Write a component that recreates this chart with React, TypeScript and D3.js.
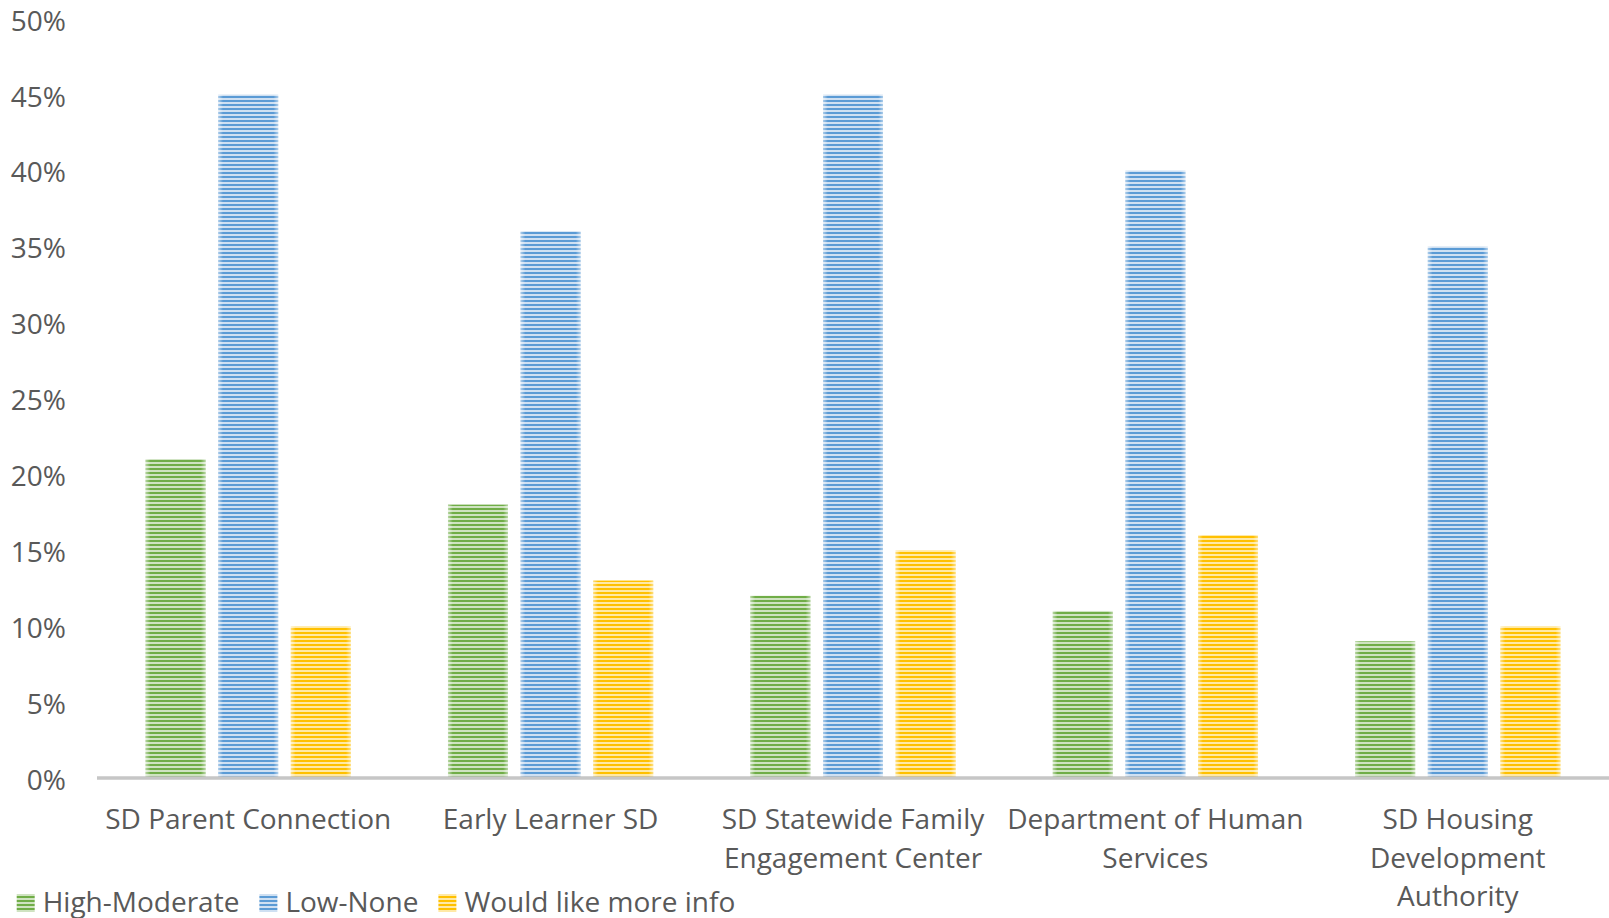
import React, { useEffect, useRef } from 'react';
import * as d3 from 'd3';

const categories = [
  'SD Parent Connection',
  'Early Learner SD',
  'SD Statewide Family Engagement Center',
  'Department of Human Services',
  'SD Housing Development Authority',
];
const seriesNames = ['High-Moderate', 'Low-None', 'Would like more info'];
const highModerate = [21, 18, 12, 11, 9];
const lowNone = [45, 36, 45, 40, 35];
const moreInfo = [10, 13, 15, 16, 10];
const seriesColors = ['#70AD47', '#5B9BD5', '#FFC000'];
const seriesLight = ['#cfe3c1', '#cfe0f2', '#ffe9a6'];
const yTicks = [0, 5, 10, 15, 20, 25, 30, 35, 40, 45, 50];

const W = 1609;
const H = 918;
const FONT = "'Open Sans', 'Noto Sans', sans-serif";
const TEXT = '#595959';
const FS = 28;

export default function App() {
  const ref = useRef<SVGSVGElement | null>(null);

  useEffect(() => {
    const svg = d3.select(ref.current);
    svg.selectAll('*').remove();

    const series = [highModerate, lowNone, moreInfo];
    const x0 = d3.scaleBand<string>().domain(categories).range([97, 1609]).padding(0);
    const x1 = d3
      .scaleBand<string>()
      .domain(seriesNames)
      .range([0, x0.bandwidth()])
      .paddingInner(0.1736)
      .paddingOuter(0.669);
    const y = d3.scaleLinear().domain([0, 50]).range([778, 18.6]);

    const defs = svg.append('defs');
    seriesColors.forEach((c, i) => {
      const p = defs
        .append('pattern')
        .attr('id', `pat${i}`)
        .attr('patternUnits', 'userSpaceOnUse')
        .attr('width', 4)
        .attr('height', 4);
      p.append('rect').attr('width', 4).attr('height', 4).attr('fill', seriesLight[i]);
      p.append('rect').attr('width', 4).attr('height', 2).attr('fill', c);
    });
    const g = defs.append('linearGradient').attr('id', 'edge').attr('x1', 0).attr('x2', 1).attr('y1', 0).attr('y2', 0);
    g.append('stop').attr('offset', 0).attr('stop-color', '#fff').attr('stop-opacity', 0.5);
    g.append('stop').attr('offset', 0.08).attr('stop-color', '#fff').attr('stop-opacity', 0);
    g.append('stop').attr('offset', 0.92).attr('stop-color', '#fff').attr('stop-opacity', 0);
    g.append('stop').attr('offset', 1).attr('stop-color', '#fff').attr('stop-opacity', 0.5);

    // y tick labels
    svg
      .append('g')
      .selectAll('text')
      .data(yTicks)
      .join('text')
      .attr('x', 66)
      .attr('y', (d) => y(d) + 1)
      .attr('text-anchor', 'end')
      .attr('dominant-baseline', 'central')
      .attr('font-family', FONT)
      .attr('font-size', FS)
      .attr('fill', TEXT)
      .text((d) => `${d}%`);

    // bars
    series.forEach((vals, si) => {
      const gs = svg.append('g');
      categories.forEach((cat, ci) => {
        const bx = (x0(cat) ?? 0) + (x1(seriesNames[si]) ?? 0);
        const by = y(vals[ci]);
        const bh = y(0) - by;
        gs.append('rect')
          .attr('x', bx)
          .attr('y', by)
          .attr('width', x1.bandwidth())
          .attr('height', bh)
          .attr('fill', `url(#pat${si})`);
        gs.append('rect')
          .attr('x', bx)
          .attr('y', by)
          .attr('width', x1.bandwidth())
          .attr('height', bh)
          .attr('fill', 'url(#edge)');
      });
    });

    // axis line
    svg
      .append('line')
      .attr('x1', 97)
      .attr('x2', 1609)
      .attr('y1', y(0))
      .attr('y2', y(0))
      .attr('stroke', '#c6c6c6')
      .attr('stroke-width', 3.5);

    // category labels with wrapping
    const maxW = 300;
    categories.forEach((cat) => {
      const cx = (x0(cat) ?? 0) + x0.bandwidth() / 2;
      const t = svg
        .append('text')
        .attr('text-anchor', 'middle')
        .attr('font-family', FONT)
        .attr('font-size', FS)
        .attr('fill', TEXT);
      const words = cat.split(' ');
      const lines: string[] = [];
      let cur = '';
      const probe = t.append('tspan');
      words.forEach((w) => {
        const test = cur ? cur + ' ' + w : w;
        probe.text(test);
        const len = (probe.node() as SVGTSpanElement).getComputedTextLength();
        if (len > maxW && cur) {
          lines.push(cur);
          cur = w;
        } else {
          cur = test;
        }
      });
      if (cur) lines.push(cur);
      probe.remove();
      lines.forEach((ln, li) => {
        t.append('tspan')
          .attr('x', cx)
          .attr('y', 829 + li * 38.5)
          .text(ln);
      });
    });

    // legend
    let lx = 16.7;
    seriesNames.forEach((name, i) => {
      svg
        .append('rect')
        .attr('x', lx)
        .attr('y', 894)
        .attr('width', 18)
        .attr('height', 18)
        .attr('fill', `url(#pat${i})`);
      const t = svg
        .append('text')
        .attr('x', lx + 26)
        .attr('y', 912)
        .attr('font-family', FONT)
        .attr('font-size', FS)
        .attr('fill', TEXT)
        .text(name);
      const tw = (t.node() as SVGTextElement).getComputedTextLength();
      lx = lx + 26 + tw + 20;
    });
  }, []);

  return (
    <svg
      ref={ref}
      width={W}
      height={H}
      style={{ position: 'absolute', left: 0, top: 0, background: '#fff' }}
    />
  );
}
